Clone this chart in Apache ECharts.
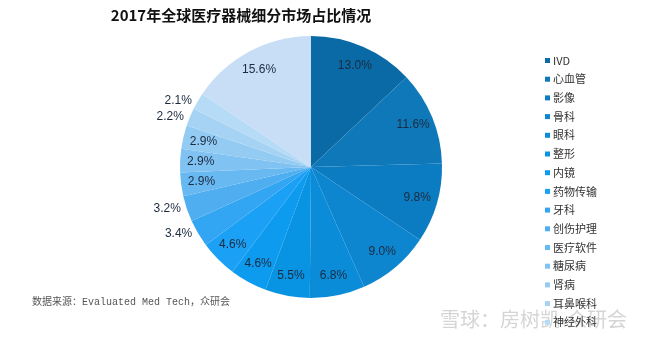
<!DOCTYPE html>
<html><head><meta charset="utf-8">
<script src="https://cdn.jsdelivr.net/npm/echarts@6/dist/echarts.min.js"></script>
<style>html,body{margin:0;padding:0;background:#fff}#c{width:660px;height:338px}</style>
</head><body><div id="c"></div>
<script>
var categories = ['IVD','心血管','影像','骨科','眼科','整形','内镜','药物传输','牙科','创伤护理','医疗软件','糖尿病','肾病','耳鼻喉科','神经外科','其他'];
var values = [13.0,11.6,9.8,9.0,6.8,5.5,4.6,4.6,3.4,3.2,2.9,2.9,2.9,2.2,2.1,15.6];
var colors = ['#0a6aa6','#0f78b9','#0c7cc2','#0d85cf','#0a8cd8','#0893e3','#0d9bef','#1aa0f5','#33a6f3','#4eaef0','#68b8f1','#80c2f2','#93cbf3','#a6d3f4','#b5dbf6','#c8ddf6'];
var outsideLabels = ['牙科','创伤护理','耳鼻喉科','神经外科'];

var chart = echarts.init(document.getElementById('c'), null, {renderer:'canvas'});
var mainData = categories.map(function(n,i){
  var out = outsideLabels.indexOf(n) >= 0;
  return {name:n, value:values[i], itemStyle:{color:colors[i]}, label:{show:out}};
});
var ghostData = categories.map(function(n,i){
  var out = outsideLabels.indexOf(n) >= 0;
  return {name:n, value:values[i], label:{show:!out}};
});
var labelStyle = {color:'#1c2b3f', fontSize:12, fontFamily:'Liberation Sans, Arial, sans-serif',
  formatter:function(p){return p.value.toFixed(1)+'%';}};
chart.setOption({
  animation:false,
  title:{text:'2017年全球医疗器械细分市场占比情况', left:236, textAlign:'center', top:3,
    textStyle:{fontSize:15, fontWeight:'bold', color:'#111', fontFamily:'Noto Sans CJK SC'}},
  legend:{orient:'vertical', left:540, top:50, data:categories.slice(0,15),
    icon:'rect', itemWidth:5, itemHeight:5, itemGap:7.7,
    textStyle:{fontSize:11, color:'#333', fontFamily:'Noto Sans CJK SC, Liberation Sans', padding:[0,0,0,-2]}},
  graphic:[
    {type:'text', left:32, top:297, style:{text:'数据来源：Evaluated Med Tech，众研会', fill:'#555',
      font:'10px "Liberation Mono", "Noto Sans CJK SC", monospace'}},
    {type:'text', left:440, top:309, style:{text:'雪球：房树凯-众研会', fill:'rgba(150,150,150,0.4)',
      font:'20px "Noto Sans CJK SC"'}}
  ],
  series:[
    {type:'pie', center:[311,167], radius:[0,131], startAngle:90, clockwise:true,
      data:mainData, silent:true,
      label:Object.assign({position:'outside'}, labelStyle),
      labelLine:{show:false, length:1, length2:0},
      itemStyle:{borderWidth:0}},
    {type:'pie', center:[311,167], radius:[84,131], startAngle:90, clockwise:true,
      data:ghostData, silent:true, legendHoverLink:false,
      itemStyle:{color:'rgba(0,0,0,0)', borderWidth:0},
      label:Object.assign({position:'inside'}, labelStyle),
      labelLine:{show:false}}
  ]
});
</script></body></html>
